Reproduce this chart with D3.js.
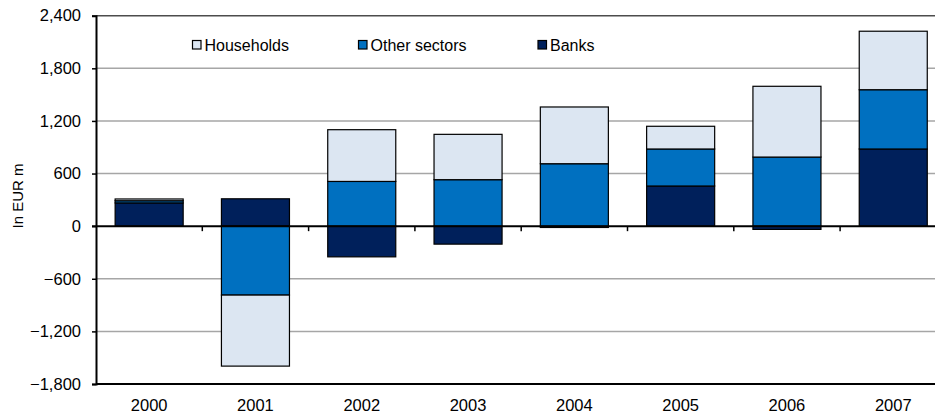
<!DOCTYPE html>
<html>
<head>
<meta charset="utf-8">
<script src="https://cdn.jsdelivr.net/npm/d3@7"></script>
<style>
  html, body { margin: 0; padding: 0; background: #fff; }
  svg { display: block; font-family: "Liberation Sans", Arial, sans-serif; }
</style>
</head>
<body>
<svg id="chart" width="935" height="414"></svg>
<script>
// Net flows by sector, EUR millions
const years = ["2000", "2001", "2002", "2003", "2004", "2005", "2006", "2007"];
const banks = [265, 312, -350, -205, -15, 458, -37, 880];
const otherSectors = [25, -786, 510, 530, 712, 422, 788, 676];
const households = [20, -810, 590, 517, 647, 259, 807, 667];
const yTicks = [-1800, -1200, -600, 0, 600, 1200, 1800, 2400];

const seriesNames = ["Banks", "Other sectors", "Households"];
const seriesValues = [banks, otherSectors, households];
const colors = {"Banks": "#00205b", "Other sectors": "#0070c0", "Households": "#dce6f2"};

const svg = d3.select("#chart");
const plotLeft = 96, plotRight = 946.4, plotTop = 15.7, plotBottom = 384;

const x = d3.scaleBand().domain(years).range([plotLeft, plotRight])
  .paddingInner(0.36).paddingOuter(0.18);
const y = d3.scaleLinear().domain([-1800, 2400]).range([plotBottom, plotTop]);

// horizontal gridlines
svg.append("g").selectAll("line").data(yTicks.filter(t => t !== 0 && t !== -1800 && t !== 2400))
  .join("line")
  .attr("x1", plotLeft).attr("x2", 935)
  .attr("y1", d => y(d)).attr("y2", d => y(d))
  .attr("stroke", "#a6a6a6").attr("stroke-width", 1.5);
svg.append("line").attr("x1", plotLeft).attr("x2", 935)
  .attr("y1", y(2400)).attr("y2", y(2400))
  .attr("stroke", "#4d4d4d").attr("stroke-width", 1.5);

// stack segments: positives build up from zero, negatives build down
const segments = [];
years.forEach((yr, i) => {
  let pos = 0, neg = 0;
  seriesNames.forEach((name, s) => {
    const v = seriesValues[s][i];
    let y0, y1;
    if (v >= 0) { y0 = pos; y1 = pos + v; pos = y1; }
    else { y0 = neg; y1 = neg + v; neg = y1; }
    segments.push({year: yr, name, y0, y1});
  });
});

svg.append("g").selectAll("rect").data(segments).join("rect")
  .attr("x", d => x(d.year))
  .attr("width", x.bandwidth())
  .attr("y", d => y(Math.max(d.y0, d.y1)))
  .attr("height", d => Math.abs(y(d.y0) - y(d.y1)))
  .attr("fill", d => colors[d.name])
  .attr("stroke", "#000").attr("stroke-width", 1.2);

// y axis
const yAxis = d3.axisLeft(y).tickValues(yTicks).tickSize(4).tickPadding(11)
  .tickFormat(d3.format(","));
const gy = svg.append("g").attr("transform", `translate(${plotLeft},0)`).call(yAxis);
gy.select(".domain").attr("stroke", "#000").attr("stroke-width", 2);
gy.selectAll(".tick line").attr("stroke", "#000").attr("stroke-width", 1.5);
gy.selectAll(".tick text").attr("font-size", 16.5).attr("fill", "#000")
  .attr("font-family", "Liberation Sans, Arial, sans-serif");

// bottom line at -1800
svg.append("line").attr("x1", plotLeft).attr("x2", 935)
  .attr("y1", y(-1800)).attr("y2", y(-1800))
  .attr("stroke", "#000").attr("stroke-width", 2);

// zero line with category ticks
svg.append("line").attr("x1", plotLeft - 4).attr("x2", 935)
  .attr("y1", y(0)).attr("y2", y(0))
  .attr("stroke", "#000").attr("stroke-width", 2);
const boundaries = years.slice(1).map(yr => x(yr) - x.step() * x.paddingInner() / 2);
svg.append("g").selectAll("line").data(boundaries).join("line")
  .attr("x1", d => d).attr("x2", d => d)
  .attr("y1", y(0)).attr("y2", y(0) + 5)
  .attr("stroke", "#000").attr("stroke-width", 1.5);

// category labels
svg.append("g").selectAll("text").data(years).join("text")
  .attr("x", d => x(d) + x.bandwidth() / 2)
  .attr("y", 410.5)
  .attr("text-anchor", "middle")
  .attr("font-size", 16.5).attr("fill", "#000")
  .text(d => d);

// y title
svg.append("text")
  .attr("transform", "translate(23,196) rotate(-90)")
  .attr("text-anchor", "middle")
  .attr("font-size", 15).attr("fill", "#000")
  .text("In EUR m");

// legend
const legendItems = [
  {name: "Households", x: 192.5},
  {name: "Other sectors", x: 358.5},
  {name: "Banks", x: 538}
];
const lg = svg.append("g").selectAll("g").data(legendItems).join("g")
  .attr("transform", d => `translate(${d.x},40.5)`);
lg.append("rect").attr("width", 8.5).attr("height", 8.5)
  .attr("fill", d => colors[d.name]).attr("stroke", "#000").attr("stroke-width", 1.2);
lg.append("text").attr("x", 12).attr("y", 10.7)
  .attr("font-size", 16).attr("fill", "#000")
  .text(d => d.name);
</script>
</body>
</html>
